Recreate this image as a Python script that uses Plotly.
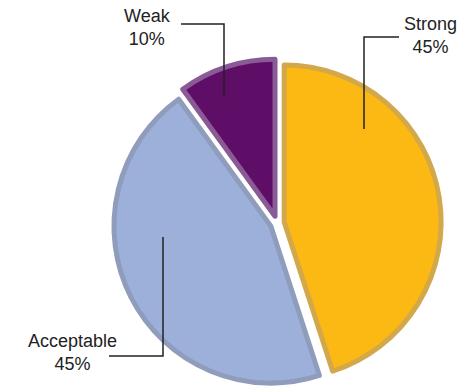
import plotly.graph_objects as go

# ---- data ----
categories = ["Strong", "Acceptable", "Weak"]
values = [45, 45, 10]
pct_labels = ["45%", "45%", "10%"]

fill_colors = ["#FDB913", "#9DB0DA", "#5E0E66"]
bevel_colors = ["#D2A84A", "#8F9CBC", "#8A5A96"]

W, H = 462, 387

fig = go.Figure()
fig.add_trace(go.Pie(
    labels=categories,
    values=values,
    sort=False,
    direction="clockwise",
    rotation=0,
    pull=[0.045, 0.045, 0.045],
    marker=dict(colors=fill_colors, line=dict(color=bevel_colors, width=5)),
    textinfo="none",
    hoverinfo="label+percent",
    showlegend=False,
    domain=dict(x=[0.22, 0.98], y=[0.0, 328 / 387]),
))

def px(x, y):
    return x / W, 1 - y / H

# label placements (pixel positions of text centre) and leader paths
label_pos = {"Strong": (430, 36), "Acceptable": (72, 352), "Weak": (147, 27)}
leader_paths = {
    "Strong": [(399, 37), (364, 37), (364, 129)],
    "Acceptable": [(109, 356), (163, 356), (163, 237)],
    "Weak": [(181, 24), (224, 24), (224, 97)],
}

annotations = []
shapes = []
for cat, pct in zip(categories, pct_labels):
    xx, yy = px(*label_pos[cat])
    annotations.append(dict(
        x=xx, y=yy, xref="paper", yref="paper",
        text=f"{cat}<br>{pct}", showarrow=False,
        xanchor="center", yanchor="middle", align="center",
        font=dict(family="Liberation Sans, Arial, sans-serif", size=18, color="#222222"),
    ))
    pts = [px(a, b) for a, b in leader_paths[cat]]
    path = "M " + " L ".join(f"{a},{b}" for a, b in pts)
    shapes.append(dict(type="path", xref="paper", yref="paper", path=path,
                       line=dict(color="#222222", width=1.5)))

fig.update_layout(
    width=W, height=H,
    margin=dict(l=0, r=0, t=0, b=0),
    paper_bgcolor="white",
    plot_bgcolor="white",
    annotations=annotations,
    shapes=shapes,
)

fig.write_html("out.html")
